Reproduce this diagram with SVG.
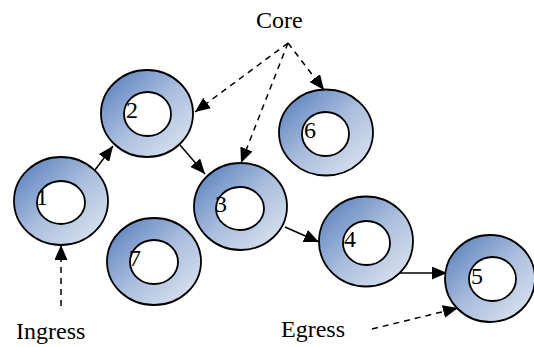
<svg xmlns="http://www.w3.org/2000/svg" width="534" height="347" viewBox="0 0 534 347">
<defs>
<linearGradient id="g" x1="0" y1="0" x2="1" y2="1">
<stop offset="0" stop-color="#5078bb"/>
<stop offset="0.5" stop-color="#a9bddd"/>
<stop offset="1" stop-color="#e3eaf3"/>
</linearGradient>
<marker id="ah" markerUnits="userSpaceOnUse" markerWidth="17" markerHeight="13" refX="15" refY="6.5" orient="auto">
<path d="M0,0 L15,6.5 L0,13 Z" fill="#000"/>
</marker>
</defs>
<style>
.outer{fill:url(#g);stroke:#000;stroke-width:1.8}
.inner{fill:#fff;stroke:#000;stroke-width:1.8}
text{font-family:'Liberation Serif','Times New Roman','DejaVu Serif',serif;font-size:24px;fill:#000}
.solid{stroke:#000;stroke-width:1.5;fill:none;marker-end:url(#ah)}
.dash{stroke:#000;stroke-width:1.5;fill:none;stroke-dasharray:6,5;marker-end:url(#ah)}
</style>
<g id="connectors">
<line class="solid" x1="95" y1="170" x2="113" y2="146"/>
<line class="solid" x1="180" y1="145" x2="205" y2="174"/>
<line class="solid" x1="285" y1="227" x2="319" y2="242"/>
<line class="solid" x1="400" y1="273" x2="447" y2="273"/>
<line class="dash" x1="61" y1="306" x2="61" y2="245"/>
<line class="dash" x1="372" y1="329" x2="458" y2="308"/>
<line class="dash" x1="288" y1="43" x2="195" y2="112"/>
<line class="dash" x1="288" y1="43" x2="241" y2="163"/>
<line class="dash" x1="288" y1="43" x2="324" y2="90"/>
</g>
<g id="node1"><ellipse class="outer" cx="61" cy="201" rx="47" ry="44"/><ellipse class="inner" cx="61" cy="202.5" rx="24" ry="21.5"/><text font-family="Liberation Serif, serif" x="36" y="205">1</text></g>
<g id="node2"><ellipse class="outer" cx="147" cy="113.5" rx="46" ry="43.5"/><ellipse class="inner" cx="147.5" cy="114" rx="23.5" ry="22"/><text font-family="Liberation Serif, serif" x="126" y="118">2</text></g>
<g id="node3"><ellipse class="outer" cx="240.5" cy="206.5" rx="46.5" ry="43.5"/><ellipse class="inner" cx="240" cy="208.5" rx="24" ry="21.5"/><text font-family="Liberation Serif, serif" x="215" y="212">3</text></g>
<g id="node4"><ellipse class="outer" cx="366" cy="241.5" rx="47" ry="45"/><ellipse class="inner" cx="366.5" cy="243" rx="23.5" ry="22"/><text font-family="Liberation Serif, serif" x="344" y="247">4</text></g>
<g id="node5"><ellipse class="outer" cx="490" cy="278.5" rx="45" ry="43.5"/><ellipse class="inner" cx="492.5" cy="279" rx="23.5" ry="22"/><text font-family="Liberation Serif, serif" x="471" y="284">5</text></g>
<g id="node6"><ellipse class="outer" cx="326" cy="132.5" rx="47" ry="43"/><ellipse class="inner" cx="325.5" cy="134" rx="23.5" ry="22"/><text font-family="Liberation Serif, serif" x="304" y="138">6</text></g>
<g id="node7"><ellipse class="outer" cx="154" cy="261.5" rx="47" ry="43.5"/><ellipse class="inner" cx="154" cy="262" rx="24" ry="22"/><text font-family="Liberation Serif, serif" x="129" y="266">7</text></g>
<g id="labels">
<text font-family="Liberation Serif, serif" x="256" y="28">Core</text>
<text font-family="Liberation Serif, serif" x="16" y="339">Ingress</text>
<text font-family="Liberation Serif, serif" x="281" y="337">Egress</text>
</g>
</svg>
